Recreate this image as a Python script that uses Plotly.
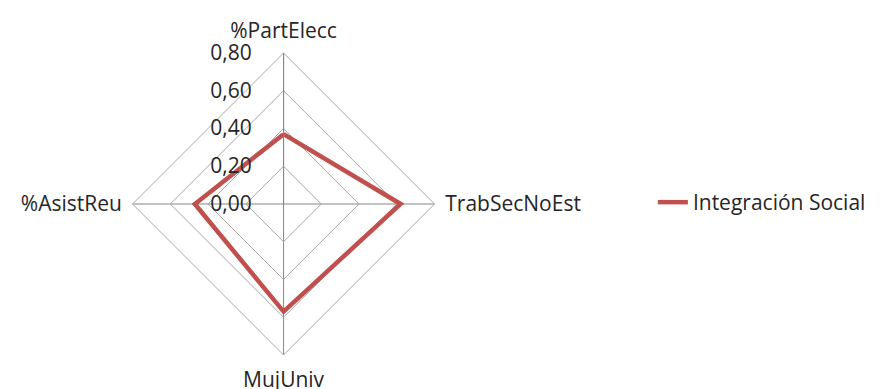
import plotly.graph_objects as go

# datos del radar
categorias = ["%PartElecc", "TrabSecNoEst", "MujUniv", "%AsistReu"]
integracion_social = [0.37, 0.62, 0.57, 0.47]
serie = "Integración Social"

fig = go.Figure()
fig.add_trace(go.Scatterpolar(
    r=integracion_social + integracion_social[:1],
    theta=categorias + categorias[:1],
    mode="lines",
    name=serie,
    line=dict(color="#C0504D", width=4.5),
))

fig.update_layout(
    width=881, height=389,
    margin=dict(l=0, r=0, t=0, b=0),
    paper_bgcolor="white",
    separators=",.",
    font=dict(family="Open Sans, sans-serif", size=21, color="#262626"),
    showlegend=True,
    legend=dict(x=0.732, y=0.50, xanchor="left", yanchor="middle",
                font=dict(size=21), bgcolor="rgba(0,0,0,0)"),
    polar=dict(
        domain=dict(x=[0.1414, 0.4842], y=[0.1079, 0.8844]),
        gridshape="linear",
        bgcolor="white",
        radialaxis=dict(
            range=[0, 0.8], dtick=0.2, tickformat=".2f",
            angle=90, tickangle=90, side="counterclockwise",
            showline=True, linecolor="#868686", linewidth=1,
            gridcolor="#a6a6a6", gridwidth=1,
            ticks="outside", ticklen=24, tickcolor="rgba(0,0,0,0)",
        ),
        angularaxis=dict(
            rotation=90, direction="clockwise",
            showline=True, linecolor="#a6a6a6", linewidth=1,
            gridcolor="#868686",
            ticks="outside", ticklen=6, tickcolor="rgba(0,0,0,0)",
        ),
    ),
)

fig.write_html("out.html")
